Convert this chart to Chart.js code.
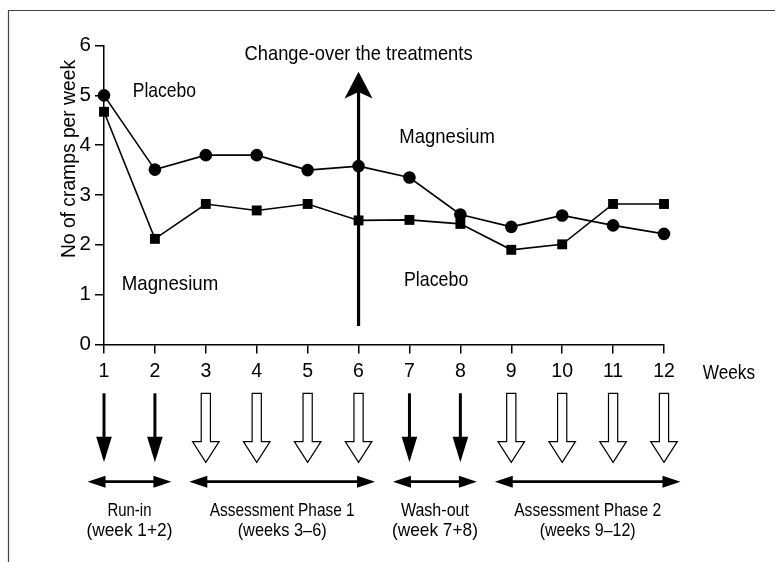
<!DOCTYPE html>
<html><head><meta charset="utf-8">
<script src="https://cdn.jsdelivr.net/npm/chart.js@4/dist/chart.umd.min.js"></script>
<style>html,body{margin:0;padding:0;background:#fff;}canvas{display:block;}</style>
</head><body>
<canvas id="c" width="775" height="562"></canvas>
<script>
// ---- data ----
const weeks = [1,2,3,4,5,6,7,8,9,10,11,12];
const placeboFirst = [5.0,3.51,3.8,3.8,3.5,3.58,3.35,2.61,2.36,2.59,2.39,2.22];   // circles
const magnesiumFirst = [4.67,2.12,2.82,2.69,2.82,2.49,2.5,2.42,1.9,2.01,2.82,2.82]; // squares
const yTicks = [0,1,2,3,4,5,6];
const solidArrowWeeks = [1,2,7,8];
const hollowArrowWeeks = [3,4,5,6,9,10,11,12];
const phaseStart = [1,3,7,9];
const phaseEnd = [2,6,8,12];
const phaseNames = ['Run-in','Assessment Phase 1','Wash-out','Assessment Phase 2'];
const phaseWeeks = ['(week 1+2)','(weeks 3\u20136)','(week 7+8)','(weeks 9\u201312)'];
const phaseNameWidths = [44,145,68,147];
const phaseWeekWidths = [86,89,86,96];
const changeOverWeek = 6;
const yTitle = 'No of cramps per week';
const xTitle = 'Weeks';

const REG = "'Liberation Sans',Arial,sans-serif";

function fitText(c, text, x, y, size, width, align){
  c.font = size + "px " + REG;
  const w = c.measureText(text).width;
  const k = width / w;
  c.save();
  c.translate(x, y);
  c.scale(k, 1);
  c.textAlign = align; c.textBaseline = 'alphabetic';
  c.fillText(text, 0, 0);
  c.restore();
}

const annot = {
  id:'annot',
  afterDraw(chart){
    const c = chart.ctx, xs = chart.scales.x, ys = chart.scales.y;
    const X = v => xs.getPixelForValue(v), Y = v => ys.getPixelForValue(v);
    c.save();
    // frame
    c.strokeStyle = '#444'; c.lineWidth = 1.2;
    c.beginPath(); c.moveTo(8.5,562); c.lineTo(8.5,10.5); c.lineTo(775,10.5); c.stroke();
    c.fillStyle = '#000';
    // y title
    c.save(); c.translate(75,159); c.rotate(-Math.PI/2);
    c.font = "19.3px " + REG; c.textAlign='center'; c.textBaseline='alphabetic';
    c.fillText(yTitle,0,0); c.restore();
    // annotation texts
    fitText(c, 'Change-over the treatments', X(changeOverWeek), 59.5, 21, 228, 'center');
    fitText(c, 'Placebo', 132.7, 96.7, 21, 63.3, 'left');
    fitText(c, 'Magnesium', 121.7, 290, 21, 96.6, 'left');
    fitText(c, 'Magnesium', 399.3, 142.7, 21, 95.7, 'left');
    fitText(c, 'Placebo', 404, 286, 21, 64.3, 'left');
    fitText(c, xTitle, 702.7, 379, 20.5, 52.3, 'left');
    // change-over arrow
    const ax = X(changeOverWeek);
    c.strokeStyle='#000'; c.lineWidth=3.2;
    c.beginPath(); c.moveTo(ax, Y(0.37)); c.lineTo(ax, 92); c.stroke();
    c.beginPath(); c.moveTo(ax,71.7); c.lineTo(ax+14,98.5); c.lineTo(ax,92); c.lineTo(ax-14,98.5); c.closePath(); c.fill();
    // solid down arrows
    solidArrowWeeks.forEach(w=>{
      const x = X(w);
      c.lineWidth=3; c.beginPath(); c.moveTo(x,393.3); c.lineTo(x,440); c.stroke();
      c.beginPath(); c.moveTo(x-7.8,436.7); c.lineTo(x+7.8,436.7); c.lineTo(x,462.3); c.closePath(); c.fill();
    });
    // hollow down arrows
    hollowArrowWeeks.forEach(w=>{
      const x = X(w);
      c.lineWidth=1.2; c.fillStyle='#fff';
      c.beginPath();
      c.moveTo(x-4.6,393.3); c.lineTo(x+4.6,393.3); c.lineTo(x+4.6,441.7); c.lineTo(x+13.3,441.7);
      c.lineTo(x,462.3); c.lineTo(x-13.3,441.7); c.lineTo(x-4.6,441.7); c.closePath();
      c.fill(); c.stroke();
    });
    c.fillStyle='#000';
    // double arrows + labels
    const ay = 481.7;
    phaseStart.forEach((s,i)=>{
      const x1 = X(s)-16.5, x2 = X(phaseEnd[i])+16.5;
      c.lineWidth=2.8; c.beginPath(); c.moveTo(x1+10,ay); c.lineTo(x2-10,ay); c.stroke();
      c.beginPath(); c.moveTo(x1,ay); c.lineTo(x1+18,ay-6); c.lineTo(x1+18,ay+6); c.closePath(); c.fill();
      c.beginPath(); c.moveTo(x2,ay); c.lineTo(x2-18,ay-6); c.lineTo(x2-18,ay+6); c.closePath(); c.fill();
      const mx = (X(s)+X(phaseEnd[i]))/2;
      fitText(c, phaseNames[i], mx, 515.7, 19, phaseNameWidths[i], 'center');
      fitText(c, phaseWeeks[i], mx, 536, 19, phaseWeekWidths[i], 'center');
    });
    c.restore();
  }
};

const gridOpts = (len)=>({drawOnChartArea:false, drawTicks:true, tickLength:len, color:'#000', lineWidth:1.5});
new Chart(document.getElementById('c'), {
  type:'line',
  data:{datasets:[
    {data: weeks.map((w,i)=>({x:w,y:placeboFirst[i]})), borderColor:'#000', backgroundColor:'#000', borderWidth:1.6,
     pointStyle:'circle', pointRadius:6.3, pointBorderWidth:0, tension:0, clip:false},
    {data: weeks.map((w,i)=>({x:w,y:magnesiumFirst[i]})), borderColor:'#000', backgroundColor:'#000', borderWidth:1.6,
     pointStyle:'rect', pointRadius:7, pointBorderWidth:0, tension:0, clip:false}
  ]},
  options:{
    responsive:false, animation:false, devicePixelRatio:1,
    layout:{padding:{left:0, top:45.5, right:111, bottom:0}},
    plugins:{legend:{display:false}, tooltip:{enabled:false}},
    scales:{
      x:{type:'linear', min:1, max:12, afterFit(s){s.height = 562-344.5;},
         afterBuildTicks(s){ s.ticks = weeks.map(v=>({value:v})); },
         ticks:{color:'#000', font:{family:REG, size:19.5}, padding:6, autoSkip:false, maxRotation:0},
         grid:gridOpts(9), border:{color:'#000', width:1.5}},
      y:{type:'linear', min:0, max:6, afterFit(s){s.width = 104;},
         afterBuildTicks(s){ s.ticks = yTicks.map(v=>({value:v})); },
         ticks:{color:'#000', font:{family:REG, size:20.5}, padding:4},
         grid:gridOpts(9), border:{color:'#000', width:1.5}}
    }
  },
  plugins:[annot]
});
</script>
</body></html>
